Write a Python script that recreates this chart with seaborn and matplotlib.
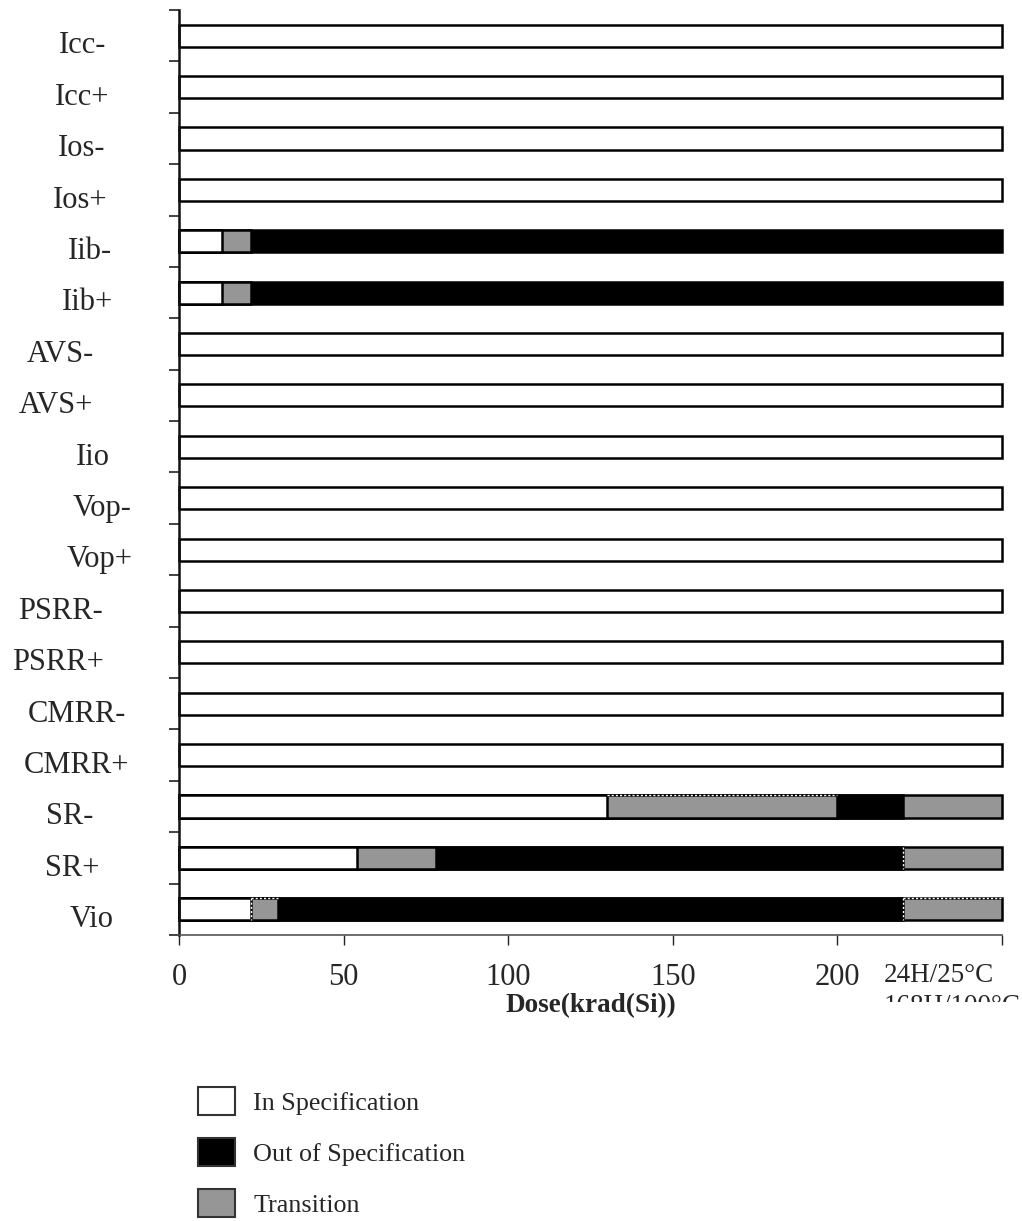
import matplotlib
matplotlib.use("Agg")
import matplotlib.pyplot as plt
import matplotlib.transforms as mtransforms
from matplotlib.transforms import Bbox, TransformedBbox
from matplotlib.patches import Patch
import seaborn as sns
import pandas as pd

# ---- data ----
categories = ["Icc-", "Icc+", "Ios-", "Ios+", "Iib-", "Iib+", "AVS-", "AVS+", "Iio",
              "Vop-", "Vop+", "PSRR-", "PSRR+", "CMRR-", "CMRR+", "SR-", "SR+", "Vio"]
states = ["In Specification", "Out of Specification", "Transition"]
state_colors = ["#ffffff", "#000000", "#969696"]

full_ends = [250]
full_states = ["In Specification"]
iib_ends = [13, 22, 250]
iib_states = ["In Specification", "Transition", "Out of Specification"]
sr_minus_ends = [130, 200, 220, 250]
sr_minus_states = ["In Specification", "Transition", "Out of Specification", "Transition"]
sr_plus_ends = [54, 78, 220, 250]
sr_plus_states = ["In Specification", "Transition", "Out of Specification", "Transition"]
vio_ends = [22, 30, 220, 250]
vio_states = ["In Specification", "Transition", "Out of Specification", "Transition"]

x_ticks = [0, 50, 100, 150, 200, 250]
x_ticklabels = ["0", "50", "100", "150", "200", ""]
condition_label = "24H/25°C\n168H/100°C"
x_title = "Dose(krad(Si))"

segments = {c: (full_ends, full_states) for c in categories}
segments["Iib-"] = (iib_ends, iib_states)
segments["Iib+"] = (iib_ends, iib_states)
segments["SR-"] = (sr_minus_ends, sr_minus_states)
segments["SR+"] = (sr_plus_ends, sr_plus_states)
segments["Vio"] = (vio_ends, vio_states)

rows = []
for c in categories:
    ends, sts = segments[c]
    start = 0
    for k, (e, s) in enumerate(zip(ends, sts)):
        rows.append({"cat": c, "seg": k, "start": start, "end": e, "state": s})
        start = e
df = pd.DataFrame(rows)

# ---- style ----
sns.set_theme(style="ticks")
serif = ["Liberation Serif", "DejaVu Serif"]
plt.rcParams["font.family"] = serif

fig = plt.figure(figsize=(10.22, 12.21), dpi=100)
W, H = 1022, 1221
ax = fig.add_axes([179 / W, 1 - 935 / H, 823 / W, 925 / H])

BAR_W = 0.43
palette = dict(zip(states, state_colors))
for k in sorted(df["seg"].unique(), reverse=True):
    sub = df[df["seg"] == k]
    sns.barplot(data=sub, x="end", y="cat", order=categories, hue="state",
                hue_order=states, palette=palette, dodge=False, width=BAR_W,
                edgecolor="black", linewidth=1.8, legend=False, ax=ax,
                saturation=1)
for p in ax.patches:
    p.set_clip_on(False)

# dotted edges seen on some transition segments in the source
cat_pos = {c: i for i, c in enumerate(categories)}
dotted_top = [("SR-", 1), ("Vio", 1), ("Vio", 3)]
for c, k in dotted_top:
    r = df[(df["cat"] == c) & (df["seg"] == k)].iloc[0]
    y = cat_pos[c] - BAR_W / 2
    ax.hlines(y, r["start"], r["end"], colors="white", linestyles=(0, (1.5, 1.5)),
              linewidth=1.0, zorder=5, clip_on=False)
dotted_left = [("SR+", 3), ("Vio", 3), ("Vio", 1)]
for c, k in dotted_left:
    r = df[(df["cat"] == c) & (df["seg"] == k)].iloc[0]
    yc = cat_pos[c]
    ax.vlines(r["start"], yc - BAR_W / 2, yc + BAR_W / 2, colors="white",
              linestyles=(0, (1.5, 1.5)), linewidth=1.0, zorder=5)

ax.set_xlim(0, 250)
ax.set_ylim(len(categories) - 0.5, -0.5)
ax.set_xticks(x_ticks)
ax.set_xticklabels(x_ticklabels, fontsize=22)
ax.set_yticks([i - 0.5 for i in range(len(categories) + 1)])
ax.set_yticklabels([])
ax.tick_params(axis="y", length=7, width=1.2, color="#222222", direction="out")
ax.tick_params(axis="x", length=7, width=1.0, color="#222222", direction="out", pad=13)
ax.set_ylabel("")
ax.set_xlabel(x_title, fontsize=19.5, fontweight="bold", labelpad=1)
sns.despine(ax=ax, top=True, right=True)
ax.spines["left"].set_linewidth(1.8)
ax.spines["left"].set_color("#111111")
ax.spines["bottom"].set_linewidth(1.2)
ax.spines["bottom"].set_color("#555555")

# category labels (individually centered as in the source)
label_centers_px = [83, 82, 82, 80, 90, 88, 60, 56, 93, 102, 100, 60, 58, 77, 77, 70, 72, 92]
trans = mtransforms.blended_transform_factory(ax.transAxes, ax.transData)
for i, (c, px) in enumerate(zip(categories, label_centers_px)):
    ax.text((px - 179) / 823, i + 0.2, c, transform=trans, ha="center", va="center",
            fontsize=22, clip_on=False)

# condition label near right end of x axis (second line cut off)
tx = mtransforms.blended_transform_factory(ax.transData, fig.transFigure)
t = ax.text(214, 1 - 963 / H, condition_label, transform=tx, ha="left", va="top",
            fontsize=19.5, linespacing=1.32, clip_on=True)
t.set_clip_box(TransformedBbox(Bbox([[0, 1 - 1002 / H], [1, 1]]), fig.transFigure))

# legend
handles = [Patch(facecolor=col, edgecolor="#333333", linewidth=1.5) for col in state_colors]
fig.legend(handles, states, loc="upper left", bbox_to_anchor=(198 / W, 1 - 1087 / H),
           frameon=False, fontsize=18.8, handlelength=1.42, handleheight=1.3,
           handletextpad=0.7, labelspacing=0.86, borderpad=0, borderaxespad=0)

fig.savefig("out.png", dpi=100)
